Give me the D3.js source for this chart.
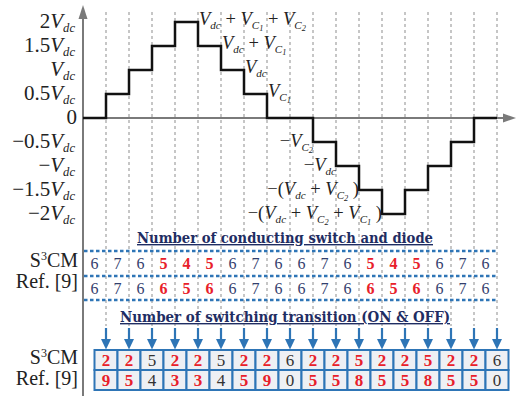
<!DOCTYPE html>
<html>
<head>
<meta charset="utf-8">
<script src="https://cdn.jsdelivr.net/npm/d3@7"></script>
<style>
  body { margin: 0; background: #fff; }
  svg { display: block; font-family: "Liberation Serif", "Times New Roman", serif; }
</style>
</head>
<body>
<svg id="chart"></svg>
<script>
// levels of the output voltage (in Vdc) for each of the 18 intervals
const levels = [0, 0.5, 1, 1.5, 2, 1.5, 1, 0.5, 0, 0, -0.5, -1, -1.5, -2, -1.5, -1, -0.5, 0];

// y tick values and the text that goes before "V_dc"
const yTicks = [2, 1.5, 1, 0.5, 0, -0.5, -1, -1.5, -2];
const yTickText = ["2", "1.5", "", "0.5", "0", "\u22120.5", "\u2212", "\u22121.5", "\u22122"];

// number of conducting switch and diode
const rowNames = ["S3CM", "Ref. [9]"];
const conductS3 = [6, 7, 6, 5, 4, 5, 6, 7, 6, 6, 7, 6, 5, 4, 5, 6, 7, 6];
const conductRef = [6, 7, 6, 6, 5, 6, 6, 7, 6, 6, 7, 6, 6, 5, 6, 6, 7, 6];
const conductRed = [3, 4, 5, 12, 13, 14];

// number of switching transitions (ON & OFF)
const switchS3 = [2, 2, 5, 2, 2, 5, 2, 2, 6, 2, 2, 5, 2, 2, 5, 2, 2, 6];
const switchRef = [9, 5, 4, 3, 3, 4, 5, 9, 0, 5, 5, 8, 5, 5, 8, 5, 5, 0];
const switchPlain = [2, 5, 8, 17];

// labels on the steps
const stepLabels = [
  {at: 5, lvl: 2, anchor: "start", segs: [["V","i"],["dc","sub"],[" + ","n"],["V","i"],["C","sub"],["1","ss"],[" + ","n"],["V","i"],["C","sub"],["2","ss"]]},
  {at: 6, lvl: 1.5, anchor: "start", segs: [["V","i"],["dc","sub"],[" + ","n"],["V","i"],["C","sub"],["1","ss"]]},
  {at: 7, lvl: 1, anchor: "start", segs: [["V","i"],["dc","sub"]]},
  {at: 8, lvl: 0.5, anchor: "start", segs: [["V","i"],["C","sub"],["1","ss"]]},
  {at: 10, lvl: -0.5, anchor: "end", segs: [["\u2212","n"],["V","i"],["C","sub"],["2","ss"]]},
  {at: 11, lvl: -1, anchor: "end", segs: [["\u2212","n"],["V","i"],["dc","sub"]]},
  {at: 12, lvl: -1.5, anchor: "end", segs: [["\u2212(","n"],["V","i"],["dc","sub"],[" + ","n"],["V","i"],["C","sub"],["2","ss"],[" )","n"]]},
  {at: 13, lvl: -2, anchor: "end", segs: [["\u2212(","n"],["V","i"],["dc","sub"],[" + ","n"],["V","i"],["C","sub"],["2","ss"],[" + ","n"],["V","i"],["C","sub"],["1","ss"],[" )","n"]]}
];

const W = 517, H = 396;
const svg = d3.select("#chart").attr("width", W).attr("height", H);

const x = d3.scaleLinear().domain([0, 18]).range([83, 497]);
const y = d3.scaleLinear().domain([-2, 2]).range([214, 22]);

const navy = "#1f2d63", blue = "#2e75b6", red = "#e8202a", axisGray = "#7a7a7a";

// rich text: italic V, subscripts and sub-subscripts
function rich(sel, segs, fs) {
  const off = {n: 0, i: 0, sub: 4, ss: 6, sup: -7};
  const size = {n: fs, i: fs, sub: fs * 0.6, ss: fs * 0.45, sup: fs * 0.6};
  let cur = 0;
  segs.forEach(function(s) {
    const k = s[1];
    sel.append("tspan")
      .attr("dy", off[k] - cur)
      .attr("font-size", size[k])
      .attr("font-style", k === "n" || k === "sup" ? "normal" : "italic")
      .text(s[0]);
    cur = off[k];
  });
}

// vertical gray dashed lines
svg.selectAll("vline")
  .data(d3.range(1, 19))
  .enter()
  .append("line")
  .attr("x1", d => x(d)).attr("x2", d => x(d))
  .attr("y1", 12).attr("y2", 326)
  .attr("stroke", "#a8a8a8")
  .attr("stroke-width", 1.3)
  .attr("stroke-dasharray", "3,3");

// axes
svg.append("line")
  .attr("x1", x(0)).attr("x2", x(0))
  .attr("y1", 16).attr("y2", H)
  .attr("stroke", axisGray).attr("stroke-width", 2);
svg.append("path")
  .attr("d", `M${x(0)},5 L${x(0) - 4.5},19 L${x(0) + 4.5},19 Z`)
  .attr("fill", axisGray);
svg.append("line")
  .attr("x1", x(0)).attr("x2", 506)
  .attr("y1", y(0)).attr("y2", y(0))
  .attr("stroke", axisGray).attr("stroke-width", 2);
svg.append("path")
  .attr("d", `M516,${y(0)} L503,${y(0) - 4.5} L503,${y(0) + 4.5} Z`)
  .attr("fill", axisGray);

// y tick labels
yTicks.forEach(function(t, i) {
  const txt = svg.append("text")
    .attr("x", t === 0 ? 77 : 75)
    .attr("y", y(t) + 6)
    .attr("text-anchor", "end")
    .attr("fill", "#222")
    .style("white-space", "pre");
  if (t === 0) {
    rich(txt, [["0", "n"]], 21);
  } else {
    const segs = [];
    if (yTickText[i] !== "") segs.push([yTickText[i], "n"]);
    segs.push(["V", "i"], ["dc", "sub"]);
    rich(txt, segs, 21);
  }
});

// waveform
const pts = levels.map((v, i) => [i, v]).concat([[18, levels[17]]]);
svg.append("path")
  .datum(pts)
  .attr("fill", "none")
  .attr("stroke", "#111")
  .attr("stroke-width", 2.5)
  .attr("d", d3.line()
    .x(d => x(d[0]))
    .y(d => y(d[1]))
    .curve(d3.curveStepAfter));

// step labels
stepLabels.forEach(function(l) {
  const txt = svg.append("text")
    .attr("x", x(l.at) + (l.anchor === "start" ? 1 : 0))
    .attr("y", y(l.lvl) + (l.lvl > 0 ? 3 : 5))
    .attr("text-anchor", l.anchor)
    .attr("fill", "#222")
    .style("white-space", "pre");
  rich(txt, l.segs, 18.5);
});

// titles
function title(tx, ty, str, len) {
  svg.append("text")
    .attr("x", tx).attr("y", ty)
    .attr("text-anchor", "middle")
    .attr("font-family", "DejaVu Serif")
    .attr("font-weight", "bold")
    .attr("font-size", 14)
    .attr("fill", navy)
    .attr("text-decoration", "underline")
    .attr("textLength", len)
    .attr("lengthAdjust", "spacingAndGlyphs")
    .text(str);
}
title(285, 243, "Number of conducting switch and diode", 296);
title(285, 322, "Number of switching transition (ON & OFF)", 330);

// blue dashed horizontal lines of the first table
[251, 276, 300].forEach(function(yy) {
  svg.append("line")
    .attr("x1", x(0) + 1).attr("x2", x(18) + 1)
    .attr("y1", yy).attr("y2", yy)
    .attr("stroke", blue)
    .attr("stroke-width", 2.4)
    .attr("stroke-dasharray", "3.5,2.5");
});

// row labels
function rowLabel(ty, name) {
  const txt = svg.append("text")
    .attr("x", 78).attr("y", ty)
    .attr("text-anchor", "end")
    .attr("fill", "#222")
    .style("white-space", "pre");
  if (name === "S3CM") rich(txt, [["S", "n"], ["3", "sup"], ["CM", "n"]], 20);
  else rich(txt, [[name, "n"]], 20);
}
rowLabel(267, rowNames[0]);
rowLabel(288, rowNames[1]);
rowLabel(364, rowNames[0]);
rowLabel(385, rowNames[1]);

// conducting numbers
[[conductS3, 269], [conductRef, 294]].forEach(function(row) {
  svg.selectAll("cn")
    .data(row[0])
    .enter()
    .append("text")
    .attr("x", (d, i) => x(i + 0.5))
    .attr("y", row[1])
    .attr("text-anchor", "middle")
    .attr("font-size", 16)
    .attr("font-weight", (d, i) => conductRed.includes(i) ? "bold" : "normal")
    .attr("fill", (d, i) => conductRed.includes(i) ? red : "#34406e")
    .text(d => d);
});

// arrows
d3.range(1, 19).forEach(function(i) {
  svg.append("line")
    .attr("x1", x(i)).attr("x2", x(i))
    .attr("y1", 328).attr("y2", 341)
    .attr("stroke", blue).attr("stroke-width", 2.2);
  svg.append("path")
    .attr("d", `M${x(i)},349.5 L${x(i) - 5},339 L${x(i) + 5},339 Z`)
    .attr("fill", blue);
});

// switching cells
[[switchS3, 350], [switchRef, 370]].forEach(function(row) {
  const g = svg.append("g");
  g.selectAll("rect")
    .data(row[0])
    .enter()
    .append("rect")
    .attr("x", (d, i) => x(i + 1) - 11.5)
    .attr("y", row[1])
    .attr("width", 23)
    .attr("height", 20)
    .attr("fill", "#eef0f4")
    .attr("stroke", blue)
    .attr("stroke-width", 2);
  g.selectAll("text")
    .data(row[0])
    .enter()
    .append("text")
    .attr("x", (d, i) => x(i + 1))
    .attr("y", row[1] + 16)
    .attr("text-anchor", "middle")
    .attr("font-size", 17)
    .attr("font-weight", (d, i) => switchPlain.includes(i) ? "normal" : "bold")
    .attr("fill", (d, i) => switchPlain.includes(i) ? "#333" : red)
    .text(d => d);
});
</script>
</body>
</html>
